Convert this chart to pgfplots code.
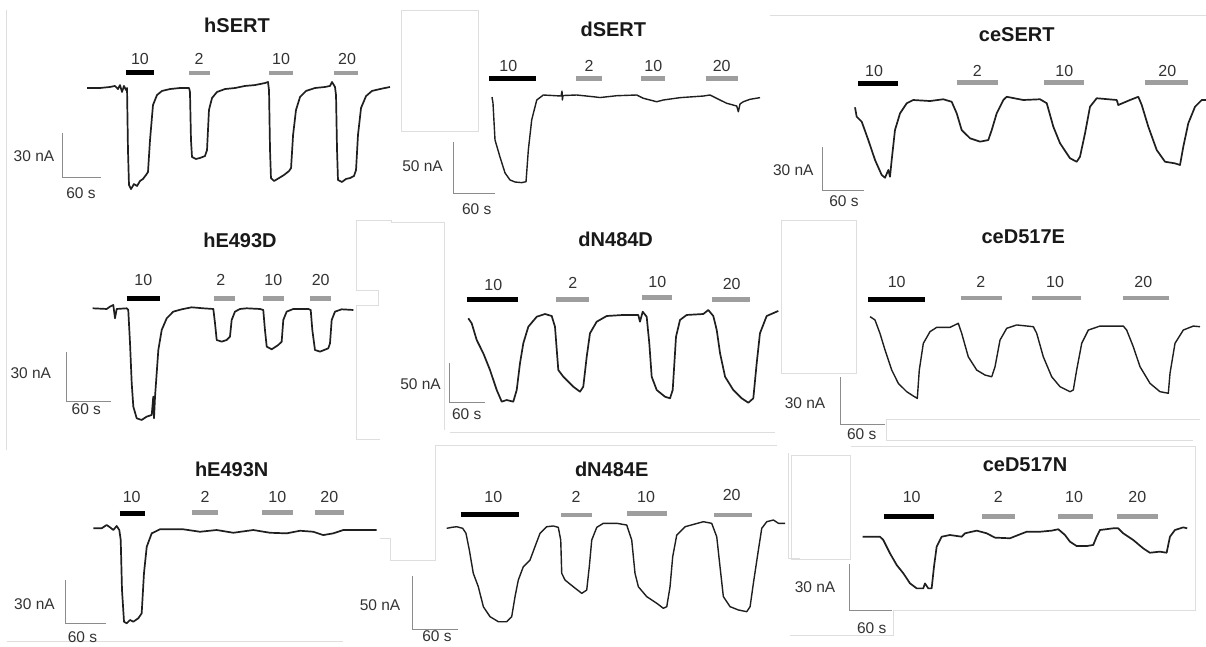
\documentclass[border=0pt]{standalone}
\usepackage{pgfplots}
\pgfplotsset{compat=1.18}
\usepackage{fontspec}
\setmainfont{Liberation Sans}
\pgfplotsset{
 panel/.style={hide axis, clip=false, anchor=origin},
 mytrace/.style={draw=black!88, line width=1.7pt, line join=round, no marks},
 onbar/.style={draw=black, line width=5pt, no marks},
 offbar/.style={draw=black!38, line width=4.5pt, no marks},
 sbar/.style={draw=black!45, line width=1pt, no marks},
}
\tikzset{
 ttl/.style={font=\fontsize{20}{24}\selectfont\bfseries, text=black!90, inner sep=0pt},
 lab/.style={font=\fontsize{16}{19}\selectfont, text=black!80, inner sep=0pt},
 scl/.style={font=\fontsize{15.5}{18}\selectfont, text=black!80, inner sep=0pt},
 outl/.style={draw=black!13, line width=0.8pt},
}
\begin{document}
\begin{tikzpicture}
\path[use as bounding box] (0pt,0pt) rectangle (1206pt,-646pt);
\fill[white] (0pt,0pt) rectangle (1206pt,-646pt);
% collage outlines
\draw[outl] (6pt,-10pt) -- (6pt,-450pt);
\draw[outl] (401pt,-10pt) rectangle (478pt,-131pt);
\draw[outl] (770pt,-15pt) -- (1206pt,-15pt);
\draw[outl] (356.7pt,-220pt)--(391.7pt,-220pt)--(391.7pt,-222.7pt)--(444.3pt,-222.7pt)--(444.3pt,-430pt);
\draw[outl] (356.7pt,-220pt)--(356.7pt,-290pt)--(378.3pt,-290pt)--(378.3pt,-305pt)--(356.7pt,-305pt)--(356.7pt,-439.3pt)--(380pt,-439.3pt);
\draw[outl] (450pt,-432pt)--(775pt,-432pt);
\draw[outl] (781.7pt,-220pt) rectangle (856.7pt,-373.3pt);
\draw[outl] (886.7pt,-419pt)--(1200pt,-419pt);
\draw[outl] (886.7pt,-419pt)--(886.7pt,-440pt)--(1193pt,-440pt);
\draw[outl] (435pt,-445pt)--(776.7pt,-445pt);
\draw[outl] (435pt,-445pt)--(435pt,-560.7pt)--(390pt,-560.7pt)--(390pt,-538.3pt)--(380pt,-538.3pt);
\draw[outl] (788.3pt,-453.3pt)--(788.3pt,-558.3pt)--(800pt,-558.3pt);
\draw[outl] (791.7pt,-455pt) rectangle (850.7pt,-559.3pt);
\draw[outl] (850.7pt,-446.7pt)--(1195pt,-446.7pt)--(1195pt,-610pt)--(893.3pt,-610pt)--(893.3pt,-635pt)--(790pt,-635pt);
\draw[outl] (6.7pt,-641.7pt)--(343pt,-641.7pt);

% ---------------- hSERT
\begin{axis}[panel, at={(87pt,-88pt)}, x=0.6333pt, y=1.4667pt, xmin=-45, xmax=485, ymin=-75, ymax=15]
\addplot[mytrace] coordinates {(0,0)(20.5,0)(36.3,0.7)(44.2,1.4)(48.9,-0.7)(52.1,2.0)(55.3,-2.7)(58.4,1.4)(61.6,-1.4)(63.2,0)(64.7,-42.3)(66.3,-66.1)(69.5,-68.9)(74.2,-65.5)(79.0,-66.8)(83.7,-63.4)(88.4,-62.0)(93.2,-59.3)(96.3,-57.3)(99.5,-35.5)(104.2,-11.6)(110.5,-4.8)(118.4,-2.0)(131.1,-0.7)(146.8,0)(161.1,0)(162.6,-2.7)(164.2,-35.5)(165.8,-47.0)(172.1,-48.4)(178.4,-47.7)(186.3,-46.4)(189.5,-42.3)(192.6,-15.0)(197.4,-6.8)(205.3,-2.7)(217.9,-0.7)(233.7,0)(249.5,1.4)(265.3,2.0)(281.1,3.4)(285.8,4.1)(287.4,-1.4)(289.0,-42.3)(290.5,-61.4)(295.3,-63.4)(303.2,-61.4)(311.1,-59.3)(319.0,-56.6)(322.2,-54.6)(325.4,-32.0)(330.0,-15.0)(336.4,-6.1)(345.9,-2.0)(360.0,0)(375.8,0.7)(383.7,1.4)(386.9,4.1)(391.6,0.7)(393.2,-4.8)(394.8,-42.3)(396.3,-62.7)(402.6,-64.1)(409.0,-62.0)(415.3,-61.4)(421.6,-60.0)(424.8,-55.9)(427.9,-32.0)(432.7,-13.6)(440.6,-5.5)(450.0,-2.0)(462.7,-0.7)(478.4,0.7)};
\addplot[onbar] coordinates {(61.6,10.4)(105.8,10.4)};
\addplot[offbar] coordinates {(161.1,10.4)(194.2,10.4)};
\addplot[offbar] coordinates {(287.4,10.4)(325.4,10.4)};
\addplot[offbar] coordinates {(390.0,10.4)(427.9,10.4)};
\addplot[sbar] coordinates {(-37.9,-30.7)(-37.9,-60.7)(22.1,-60.7)};
\end{axis}

% ---------------- dSERT
\begin{axis}[panel, at={(492pt,-95pt)}, x=0.7pt, y=1.02pt, xmin=-60, xmax=390, ymin=-100, ymax=20]
\addplot[mytrace, line width=1.4pt] coordinates {(0,-2)(1.4,-7.8)(4.3,-44.1)(11.4,-60.8)(18.6,-76.4)(25.7,-83.3)(32.9,-85.3)(42.4,-85.9)(48.6,-85.0)(51.9,-53.9)(56.7,-24.5)(63.9,-4.9)(73.3,0)(98.6,-1.0)(100,3.9)(100.5,-4.9)(101.5,-0.5)(121.0,0)(144.7,-1.7)(154.3,-2.5)(178.1,-0.7)(206.7,0)(216.1,-3.2)(235.3,-6.6)(244.7,-4.9)(268.6,-2.6)(301.9,-1.0)(311.4,0)(325.7,-4.9)(335.3,-8.1)(349.6,-10.8)(351.9,-16.4)(354.3,-8.8)(359.0,-6.6)(368.6,-4.2)(382.9,-2.6)};
\addplot[onbar] coordinates {(-3.9,15.7)(62.4,15.7)};
\addplot[offbar] coordinates {(120,16.4)(157.1,16.4)};
\addplot[offbar] coordinates {(212.4,16.4)(246.7,16.4)};
\addplot[offbar] coordinates {(305.7,16.4)(351.9,16.4)};
\addplot[sbar] coordinates {(-55.7,-46.1)(-55.7,-96.1)(4.3,-96.1)};
\end{axis}

% ---------------- ceSERT
\begin{axis}[panel, at={(855pt,-100pt)}, x=0.7pt, y=1.4667pt, xmin=-50, xmax=505, ymin=-66, ymax=15]
\addplot[mytrace] coordinates {(0,-5.0)(2.4,-11.4)(9.6,-14.8)(19.0,-27.3)(28.6,-40.9)(38.1,-51.1)(42.9,-53.0)(47.6,-47.7)(50.0,-52.3)(52.4,-40.9)(57.1,-20.5)(64.3,-9.1)(73.9,-2.2)(83.3,0)(107.1,-0.7)(126.1,0.5)(138.1,-1.2)(145.3,-9.1)(152.4,-20.5)(164.3,-26.1)(178.6,-28.4)(190.4,-27.3)(195.3,-20.5)(202.4,-9.1)(211.9,0)(216.7,2.2)(240.4,0)(264.3,0.5)(273.9,-2.2)(283.3,-18.2)(292.9,-29.5)(307.1,-39.7)(316.7,-42.1)(321.4,-38.7)(328.6,-22.7)(335.7,-4.6)(345.3,1.2)(373.9,0)(376.1,-3.4)(392.9,0)(404.7,2.2)(409.6,-3.4)(419.0,-18.2)(431.0,-34.1)(442.9,-42.1)(457.1,-43.2)(464.3,-44.3)(469.0,-31.8)(476.1,-15.9)(485.7,-4.6)(495.3,0)(501.4,0)};
\addplot[onbar] coordinates {(4.7,11.4)(61.0,11.4)};
\addplot[offbar] coordinates {(145.3,12.1)(204.7,12.1)};
\addplot[offbar] coordinates {(270.4,12.1)(327.6,12.1)};
\addplot[offbar] coordinates {(414.3,12.1)(476.1,12.1)};
\addplot[sbar] coordinates {(-46.7,-32.0)(-46.7,-62.0)(13.3,-62.0)};
\end{axis}

% ---------------- hE493D
\begin{axis}[panel, at={(92.7pt,-308.3pt)}, x=0.7333pt, y=1.6667pt, xmin=-40, xmax=360, ymin=-70, ymax=10]
\addplot[mytrace] coordinates {(0,0)(19.1,-0.4)(23.6,1.0)(28.1,2.0)(30.4,-6.0)(32.7,-0.4)(46.4,0)(48.5,-1.0)(50.9,-21.0)(53.2,-45.0)(55.4,-59.0)(60.0,-66.0)(66.8,-67.0)(73.6,-65.0)(80.5,-64.0)(82.6,-53.0)(83.6,-66.0)(85.0,-53.0)(89.5,-25.0)(94.1,-13.0)(100.9,-6.0)(109.9,-2.0)(121.4,-0.6)(135.0,0.6)(150.8,0)(164.5,-0.4)(166.8,-9.0)(169.1,-19.0)(175.9,-20.0)(182.7,-19.0)(187.2,-17.0)(189.5,-7.0)(194.0,-2.0)(200.8,-0.4)(210.0,0)(228.1,-0.4)(232.6,-1.0)(234.9,-13.0)(237.3,-23.0)(244.1,-24.6)(253.1,-22.0)(257.7,-20.0)(259.9,-7.0)(264.5,-2.0)(273.5,-0.4)(294.0,-0.4)(297.3,-1.0)(299.5,-13.0)(303.1,-25.0)(310.0,-26.0)(321.3,-24.0)(323.6,-21.0)(325.9,-7.0)(330.4,-2.0)(339.5,-0.6)(355.4,-1.0)};
\addplot[onbar] coordinates {(46.4,6.0)(91.8,6.0)};
\addplot[offbar] coordinates {(165.4,6.0)(194.0,6.0)};
\addplot[offbar] coordinates {(232.6,6.0)(260.9,6.0)};
\addplot[offbar] coordinates {(296.3,6.0)(324.5,6.0)};
\addplot[sbar] coordinates {(-35.5,-26.0)(-35.5,-56.0)(24.5,-56.0)};
\end{axis}

% ---------------- dN484D
\begin{axis}[panel, at={(468.3pt,-314pt)}, x=0.5833pt, y=0.8pt, xmin=-35, xmax=535, ymin=-115, ymax=25]
\addplot[mytrace] coordinates {(0,-5.4)(5.8,-11.6)(14.4,-32.5)(25.7,-49.1)(37.2,-70.0)(48.7,-95.0)(57.3,-109.6)(65.8,-107.5)(77.1,-109.6)(83.0,-95.0)(88.6,-61.6)(94.3,-36.6)(102.9,-15.9)(117.3,-3.4)(131.5,0)(143.0,-2.5)(148.6,-15.9)(154.3,-70.0)(162.9,-78.4)(180.0,-90.9)(191.5,-97.1)(197.1,-90.9)(203.0,-53.4)(208.6,-24.1)(220.1,-9.6)(237.3,-2.5)(265.7,-1.2)(291.4,-1.2)(294.3,-9.6)(299.0,2.9)(305.8,-3.4)(310.3,-36.6)(314.4,-78.4)(323.0,-95.0)(337.2,-103.4)(345.8,-105.4)(350.4,-95.0)(356.1,-28.4)(362.9,-7.5)(374.4,-1.2)(402.9,0)(411.4,5.0)(420.0,-2.5)(425.9,-20.0)(431.6,-49.1)(440.2,-78.4)(454.3,-95.0)(468.8,-105.4)(480.0,-110.9)(488.6,-105.4)(494.4,-61.6)(500.0,-24.1)(511.5,-2.5)(531.4,3.8)};
\addplot[onbar] coordinates {(-2.7,18.4)(85.7,18.4)};
\addplot[offbar] coordinates {(150.3,18.4)(207.4,18.4)};
\addplot[offbar] coordinates {(297.3,20.4)(348.7,20.4)};
\addplot[offbar] coordinates {(417.3,18.4)(483.0,18.4)};
\addplot[sbar] coordinates {(-31.4,-60.9)(-31.4,-110.9)(28.6,-110.9)};
\end{axis}

% ---------------- ceD517E
\begin{axis}[panel, at={(870pt,-326.7pt)}, x=0.7333pt, y=1.6pt, xmin=-45, xmax=455, ymin=-65, ymax=20]
\addplot[mytrace, line width=1.4pt] coordinates {(0,6.3)(6.8,4.2)(13.6,-4.2)(20.5,-14.6)(29.6,-27.1)(38.6,-35.4)(50.0,-40.6)(59.0,-43.3)(64.5,-44.8)(67.2,-27.1)(72.7,-10.4)(81.8,-3.1)(91.0,-0.4)(109.1,-0.4)(120.4,2.1)(125.0,-4.1)(134.0,-18.8)(145.5,-27.1)(156.8,-30.2)(166.0,-31.3)(170.5,-25.0)(177.3,-8.3)(186.4,-1.0)(200.0,1.1)(222.7,0)(227.3,-4.1)(236.3,-18.8)(247.8,-31.3)(259.1,-37.5)(272.7,-40.6)(277.2,-39.6)(281.8,-27.1)(288.7,-10.4)(297.7,-2.1)(313.6,0.4)(345.4,0.4)(350.0,-2.1)(359.0,-12.5)(368.2,-25.0)(381.8,-35.4)(395.4,-40.6)(406.8,-41.6)(409.1,-29.1)(415.9,-10.4)(427.2,-2.1)(440.9,0.4)(450.0,0)};
\addplot[onbar] coordinates {(-2.3,16.7)(75.0,16.7)};
\addplot[offbar] coordinates {(123.7,17.8)(179.6,17.8)};
\addplot[offbar] coordinates {(220.5,17.8)(287.3,17.8)};
\addplot[offbar] coordinates {(345.4,17.8)(407.7,17.8)};
\addplot[sbar] coordinates {(-40.0,-31.4)(-40.0,-61.4)(20.0,-61.4)};
\end{axis}

% ---------------- hE493N
\begin{axis}[panel, at={(93.3pt,-529pt)}, x=0.672pt, y=1.444pt, xmin=-45, xmax=425, ymin=-70, ymax=15]
\addplot[mytrace] coordinates {(0,0.5)(12.5,0.5)(19.9,2.8)(24.8,1.2)(29.8,-0.7)(34.8,2.1)(38.7,-0.7)(40.8,-7.6)(42.7,-42.2)(45.7,-64.2)(49.7,-65.3)(54.6,-63.0)(59.5,-64.2)(67.0,-61.8)(72.0,-58.4)(75.4,-30.7)(79.5,-12.3)(86.9,-3.0)(99.2,-0.2)(133.9,-0.2)(158.7,-1.9)(183.6,-0.7)(208.3,-2.6)(238.1,-0.7)(262.9,-2.6)(287.8,-3.0)(307.6,-1.2)(327.4,-1.9)(342.2,-4.2)(357.1,-3.0)(372.0,-0.7)(391.9,-0.7)(421.7,-0.7)};
\addplot[onbar] coordinates {(39.7,10.4)(76.9,10.4)};
\addplot[offbar] coordinates {(147.2,11.3)(186.0,11.3)};
\addplot[offbar] coordinates {(250.6,11.3)(296.7,11.3)};
\addplot[offbar] coordinates {(329.9,11.3)(373.0,11.3)};
\addplot[sbar] coordinates {(-41.1,-35.3)(-41.1,-65.3)(18.9,-65.3)};
\end{axis}

% ---------------- dN484E
\begin{axis}[panel, at={(446.7pt,-523.3pt)}, x=0.7617pt, y=1.066pt, xmin=-50, xmax=450, ymin=-105, ymax=15]
\addplot[mytrace, line width=1.4pt] coordinates {(0,-4.7)(6.6,-3.8)(13.1,-3.2)(21.0,-4.7)(25.3,-9.4)(29.7,-25.0)(34.9,-46.9)(41.5,-59.5)(48.1,-78.2)(56.9,-87.6)(67.8,-92.3)(78.8,-92.3)(85.3,-87.6)(89.7,-68.8)(94.0,-53.2)(100.6,-40.7)(109.4,-34.4)(115.9,-21.9)(122.5,-9.4)(131.3,-3.2)(140.0,-2.5)(146.5,-3.8)(149.7,-15.7)(151.0,-46.9)(155.3,-53.2)(166.2,-59.5)(177.3,-65.7)(183.8,-62.6)(187.2,-40.7)(190.4,-15.7)(197.0,-3.8)(205.6,0)(223.2,0)(236.3,-1.6)(242.9,-15.7)(247.2,-46.9)(251.6,-59.5)(262.6,-68.8)(275.7,-75.0)(284.4,-79.7)(288.9,-78.2)(293.2,-59.5)(296.7,-31.3)(302.0,-11.0)(312.9,-3.2)(336.9,1.5)(347.9,0)(354.5,-12.6)(358.8,-40.7)(363.2,-68.8)(372.0,-78.2)(382.9,-81.3)(393.9,-82.9)(398.3,-78.2)(402.6,-56.3)(409.2,-25.0)(413.6,-4.7)(420.2,1.5)(428.9,3.1)(435.4,0)(444.2,0)};
\addplot[onbar] coordinates {(18.4,8.7)(95.3,8.7)};
\addplot[offbar] coordinates {(150.1,7.8)(190.4,7.8)};
\addplot[offbar] coordinates {(237.1,9.4)(288.9,9.4)};
\addplot[offbar] coordinates {(351.4,7.8)(400.5,7.8)};
\addplot[sbar] coordinates {(-44.6,-49.4)(-44.6,-99.4)(15.4,-99.4)};
\end{axis}

% ---------------- ceD517N
\begin{axis}[panel, at={(862.7pt,-536.7pt)}, x=0.705pt, y=1.556pt, xmin=-25, xmax=465, ymin=-52, ymax=17]
\addplot[mytrace] coordinates {(0,0)(24.5,0)(29.2,-2.1)(38.7,-10.7)(48.2,-18.2)(57.6,-23.5)(67.1,-30.0)(76.6,-33.2)(85.9,-33.2)(88.3,-30.0)(93.0,-33.2)(97.8,-33.2)(101.1,-19.3)(104.9,-6.4)(112.0,0)(123.8,1.1)(140.4,0)(145.1,2.2)(161.7,3.9)(175.8,2.2)(187.6,-0.6)(208.9,-1.0)(220.6,1.1)(232.6,3.2)(251.4,3.2)(268.0,3.9)(277.4,4.8)(286.9,1.1)(294.0,-3.2)(303.5,-6.0)(317.6,-6.0)(327.0,-5.3)(331.8,0)(336.5,4.3)(355.4,5.4)(362.4,5.4)(369.5,2.2)(383.7,-2.1)(397.9,-7.5)(407.3,-10.3)(421.5,-9.6)(431.1,-10.3)(435.8,0)(442.9,4.3)(454.6,6.0)(460.3,5.4)};
\addplot[onbar] coordinates {(30.2,12.7)(101.1,12.7)};
\addplot[offbar] coordinates {(169.6,12.9)(216.0,12.9)};
\addplot[offbar] coordinates {(277.4,12.9)(327.0,12.9)};
\addplot[offbar] coordinates {(360.2,12.9)(418.3,12.9)};
\addplot[sbar] coordinates {(-19.0,-17.6)(-19.0,-47.6)(41.0,-47.6)};
\end{axis}

% ---------------- titles
\node[ttl] at (237pt,-25pt) {hSERT};
\node[ttl] at (613.3pt,-29pt) {dSERT};
\node[ttl] at (1016.7pt,-34.3pt) {ceSERT};
\node[ttl] at (240pt,-240pt) {hE493D};
\node[ttl] at (615.7pt,-239.3pt) {dN484D};
\node[ttl] at (1023.3pt,-236.7pt) {ceD517E};
\node[ttl] at (231.7pt,-469.3pt) {hE493N};
\node[ttl] at (611.7pt,-469.3pt) {dN484E};
\node[ttl] at (1025pt,-464.3pt) {ceD517N};
% concentration labels
\foreach \x/\y/\t in {140/59/10, 199/59/2, 281/59/10, 347/59/20,
 508.3/66/10, 589/66/2, 653.3/66/10, 721.7/66/20,
 874/71/10, 977.3/71/2, 1064.3/71/10, 1167.3/71/20,
 143.3/280/10, 220.7/280/2, 273.3/280/10, 320.7/280/20,
 493.3/285/10, 572.7/282.7/2, 657.3/281.7/10, 731.7/284/20,
 896.7/281.7/10, 980.7/281.7/2, 1055/281.7/10, 1143.3/281.7/20,
 131.7/497.3/10, 205/497.3/2, 277.3/497.3/10, 329.3/497.3/20,
 493.3/497.3/10, 576/497.3/2, 646/497.3/10, 731.7/495/20,
 911.7/497.3/10, 998.3/497.3/2, 1074/497.3/10, 1137.3/497.3/20}
 {\node[lab] at (\x pt,-\y pt) {\t};}
% scale labels
\foreach \x/\y/\t in {34/156/30 nA, 81/193/60 s,
 422.5/165.7/50 nA, 476.7/209/60 s,
 793.3/170/30 nA, 844/201/60 s,
 30.8/373.3/30 nA, 86.3/409.3/60 s,
 420.5/384.3/50 nA, 466.7/414/60 s,
 805/402.7/30 nA, 861.7/434/60 s,
 34.5/604.3/30 nA, 82.5/637/60 s,
 380/605/50 nA, 437/636.5/60 s,
 815/586.7/30 nA, 871.7/627.7/60 s}
 {\node[scl] at (\x pt,-\y pt) {\t};}
\end{tikzpicture}
\end{document}
